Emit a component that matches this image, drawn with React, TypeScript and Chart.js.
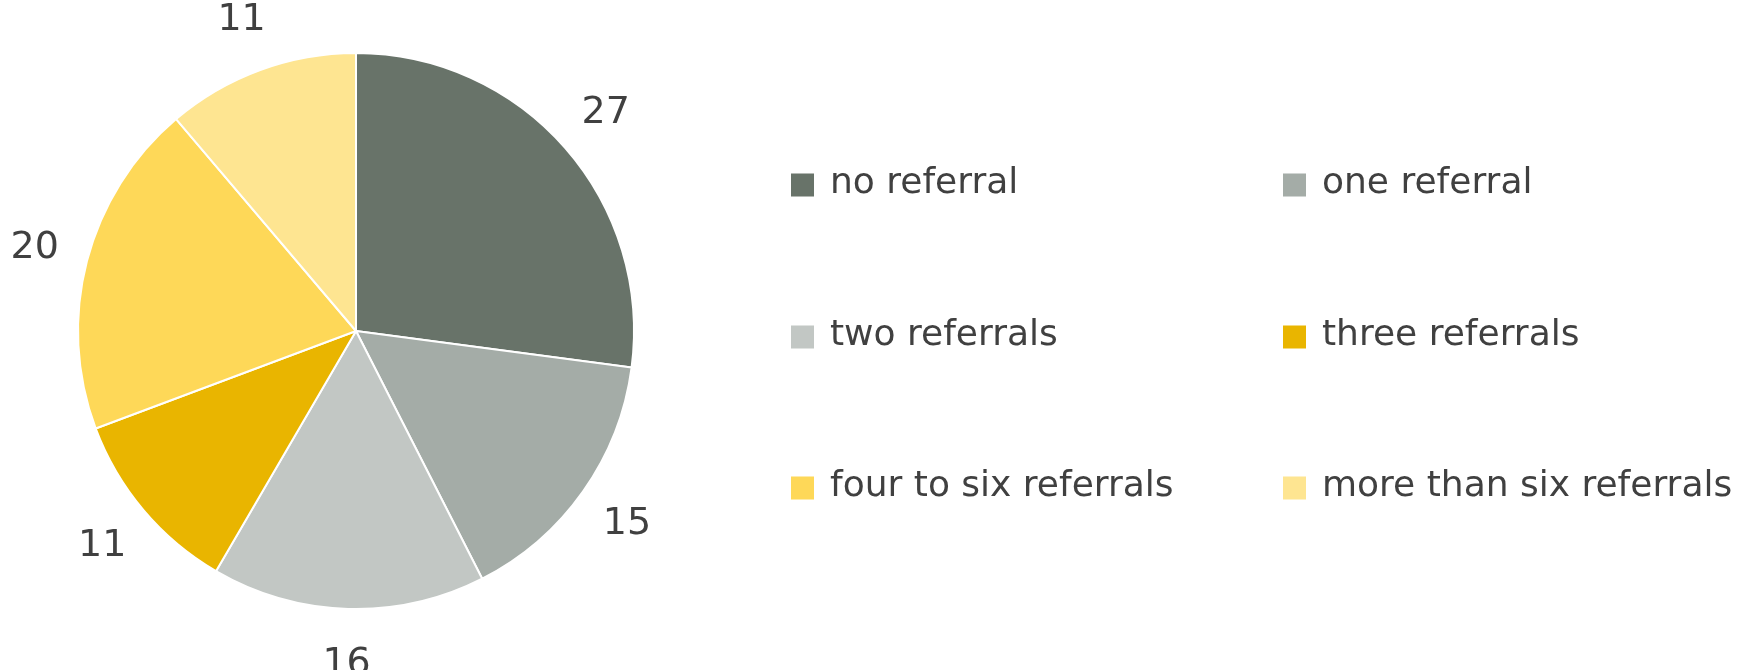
import React, { useEffect, useRef } from "react";
import { Chart, registerables } from "chart.js";

Chart.register(...registerables);

const categories = [
  "no referral",
  "one referral",
  "two referrals",
  "three referrals",
  "four to six referrals",
  "more than six referrals",
];
const values = [27.1, 15.4, 15.9, 10.9, 19.5, 11.2];
const colors = ["#687369", "#a4aca7", "#c2c7c4", "#e9b500", "#fed858", "#fee591"];

const TEXT_COLOR = "#404040";

const labelPlugin = {
  id: "outerLabels",
  afterDatasetsDraw(chart: any) {
    const ctx = chart.ctx;
    const meta = chart.getDatasetMeta(0);
    ctx.save();
    ctx.font = "38px 'DejaVu Sans'";
    ctx.fillStyle = TEXT_COLOR;
    ctx.textAlign = "center";
    ctx.textBaseline = "middle";
    meta.data.forEach((arc: any, i: number) => {
      const { x, y, startAngle, endAngle, outerRadius } = arc.getProps(
        ["x", "y", "startAngle", "endAngle", "outerRadius"],
        true
      );
      const mid = (startAngle + endAngle) / 2;
      const r = outerRadius + 54;
      ctx.fillText(String(Math.round(values[i])), x + Math.cos(mid) * r, y + Math.sin(mid) * r + 1);
    });
    ctx.restore();
  },
};

const legendPlugin = {
  id: "gridLegend",
  afterDraw(chart: any) {
    const ctx = chart.ctx;
    const colX = [791, 1283];
    const rowY = [185, 337, 488];
    const sq = 23;
    ctx.save();
    ctx.font = "36px 'DejaVu Sans'";
    ctx.textAlign = "left";
    ctx.textBaseline = "alphabetic";
    categories.forEach((name, i) => {
      const cx = colX[i % 2];
      const cy = rowY[Math.floor(i / 2)];
      ctx.fillStyle = colors[i];
      ctx.fillRect(cx, cy - sq / 2, sq, sq);
      ctx.fillStyle = TEXT_COLOR;
      ctx.fillText(name, cx + 39, cy + 8);
    });
    ctx.restore();
  },
};

export default function App() {
  const ref = useRef<HTMLCanvasElement | null>(null);
  useEffect(() => {
    document.body.style.margin = "0";
    if (!ref.current) return;
    const chart = new Chart(ref.current, {
      type: "pie",
      data: {
        labels: categories,
        datasets: [
          {
            data: values,
            backgroundColor: colors,
            borderColor: "#ffffff",
            borderWidth: 2,
          },
        ],
      },
      options: {
        responsive: false,
        animation: false,
        layout: { padding: { left: 77, right: 1107, top: 52, bottom: 60 } },
        plugins: {
          legend: { display: false },
          tooltip: { enabled: false },
        },
      },
      plugins: [labelPlugin, legendPlugin],
    });
    return () => chart.destroy();
  }, []);
  return (
    <div style={{ width: 1742, height: 670, background: "#fff" }}>
      <canvas ref={ref} width={1742} height={670} style={{ display: "block" }} />
    </div>
  );
}
